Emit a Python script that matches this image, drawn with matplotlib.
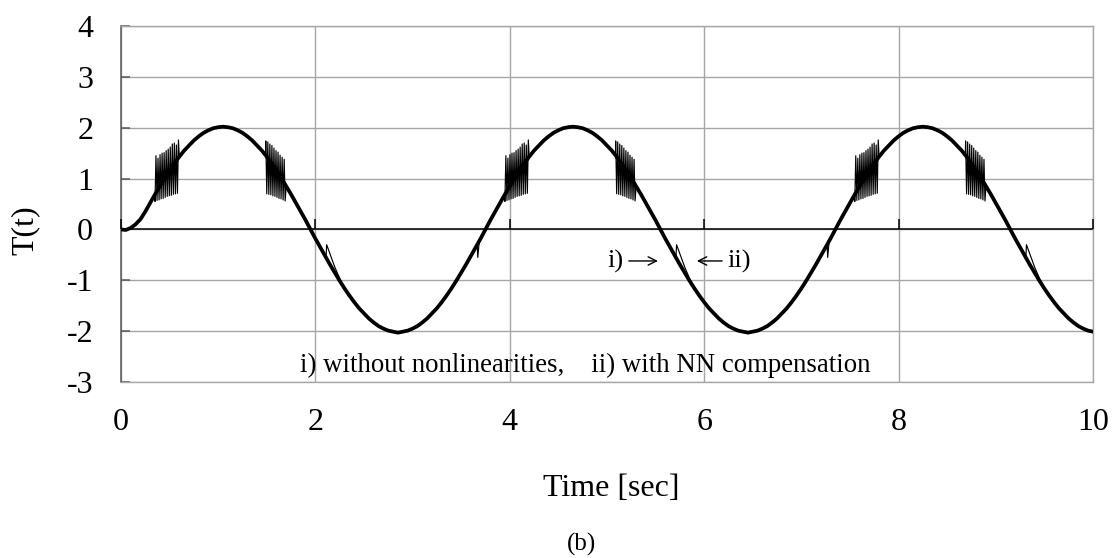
import numpy as np
import matplotlib
matplotlib.use('Agg')
import matplotlib.pyplot as plt

plt.rcParams['font.family'] = ['Liberation Serif', 'DejaVu Serif']
plt.rcParams['axes.unicode_minus'] = False

# ---------------- data ----------------
time_s = np.round(np.arange(0, 10.0001, 0.05), 2)

# ii) with NN compensation (thick curve), sampled every 0.05 s
T_nn = [0.00, -0.01, 0.03, 0.10, 0.20, 0.35, 0.52, 0.69,
        # 0.40 .. 3.95
        0.85, 1.01, 1.16, 1.30, 1.43, 1.55, 1.65, 1.75, 1.83, 1.90, 1.95, 1.99,
        2.01, 2.02, 2.01, 1.99, 1.95, 1.90, 1.83, 1.75, 1.65, 1.55, 1.43, 1.30,
        1.16, 1.01, 0.85, 0.69, 0.52, 0.35, 0.18, 0.00, -0.18, -0.35, -0.52, -0.69,
        -0.85, -1.01, -1.16, -1.30, -1.43, -1.55, -1.65, -1.75, -1.83, -1.90, -1.95, -1.99,
        -2.01, -2.03, -2.01, -1.99, -1.95, -1.90, -1.83, -1.75, -1.65, -1.55, -1.43, -1.30,
        -1.16, -1.01, -0.85, -0.69, -0.52, -0.35, -0.18, 0.00, 0.18, 0.35, 0.52, 0.69,
        # 4.00 .. 7.55
        0.85, 1.01, 1.16, 1.30, 1.43, 1.55, 1.65, 1.75, 1.83, 1.90, 1.95, 1.99,
        2.01, 2.02, 2.01, 1.99, 1.95, 1.90, 1.83, 1.75, 1.65, 1.55, 1.43, 1.30,
        1.16, 1.01, 0.85, 0.69, 0.52, 0.35, 0.18, 0.00, -0.18, -0.35, -0.52, -0.69,
        -0.85, -1.01, -1.16, -1.30, -1.43, -1.55, -1.65, -1.75, -1.83, -1.90, -1.95, -1.99,
        -2.01, -2.03, -2.01, -1.99, -1.95, -1.90, -1.83, -1.75, -1.65, -1.55, -1.43, -1.30,
        -1.16, -1.01, -0.85, -0.69, -0.52, -0.35, -0.18, 0.00, 0.18, 0.35, 0.52, 0.69,
        # 7.60 .. 10.00
        0.85, 1.01, 1.16, 1.30, 1.43, 1.55, 1.65, 1.75, 1.83, 1.90, 1.95, 1.99,
        2.01, 2.02, 2.01, 1.99, 1.95, 1.90, 1.83, 1.75, 1.65, 1.55, 1.43, 1.30,
        1.16, 1.01, 0.85, 0.69, 0.52, 0.35, 0.18, 0.00, -0.18, -0.35, -0.52, -0.69,
        -0.85, -1.01, -1.16, -1.30, -1.43, -1.55, -1.65, -1.75, -1.83, -1.90, -1.95, -1.99,
        -2.01]

# i) without nonlinearities (thin curve): oscillation bursts and spikes
spike_dt = 0.021
burstA_start = [0.35, 3.95, 7.55]
burstA_entry = 0.68
burstA_top = [1.45, 1.40, 1.47, 1.50, 1.51, 1.55, 1.58, 1.62, 1.68, 1.70, 1.66, 1.76]
burstA_bot = [0.55, 0.57, 0.58, 0.60, 0.61, 0.63, 0.65, 0.66, 0.67, 0.69, 0.70, 0.71]
burstB_start = [1.49, 5.09, 8.69]
burstB_entry = 1.45
burstB_top = [1.74, 1.72, 1.68, 1.65, 1.60, 1.55, 1.52, 1.46, 1.42, 1.38]
burstB_bot = [0.70, 0.69, 0.68, 0.66, 0.65, 0.63, 0.61, 0.60, 0.58, 0.56]
saw_start = [2.11, 5.71, 9.31]
saw_dt = [0.0, 0.006, 0.09, 0.18]
saw_val = [-0.56, -0.30, -0.74, -1.14]
dip_start = [3.665, 7.265]
dip_dt = [0.0, 0.006, 0.022]
dip_val = [-0.30, -0.55, -0.22]

x_ticks = [0, 2, 4, 6, 8, 10]
y_ticks = [-3, -2, -1, 0, 1, 2, 3, 4]

# ---------------- build thin curve ----------------
events = []
windows = []
for s in burstA_start:
    events.append((s - 0.003, burstA_entry))
    for k, (top, bot) in enumerate(zip(burstA_top, burstA_bot)):
        tk = s + k * spike_dt
        events += [(tk, bot), (tk + 0.01, top)]
    windows.append((s - 0.004, s + (len(burstA_top) - 1) * spike_dt + 0.011))
for s in burstB_start:
    events.append((s - 0.003, burstB_entry))
    for k, (top, bot) in enumerate(zip(burstB_top, burstB_bot)):
        tk = s + k * spike_dt
        events += [(tk, top), (tk + 0.01, bot)]
    windows.append((s - 0.004, s + (len(burstB_top) - 1) * spike_dt + 0.011))
for s in saw_start:
    events += [(s + d, v) for d, v in zip(saw_dt, saw_val)]
    windows.append((s - 0.001, s + saw_dt[-1] + 0.001))
for s in dip_start:
    events += [(s + d, v) for d, v in zip(dip_dt, dip_val)]
    windows.append((s - 0.001, s + dip_dt[-1] + 0.001))

pts = [(t, v) for t, v in zip(time_s, T_nn)
       if not any(a <= t <= b for a, b in windows)]
pts += events
pts.sort(key=lambda p: p[0])
t_thin = [p[0] for p in pts]
v_thin = [p[1] for p in pts]

# ---------------- figure ----------------
fig = plt.figure(figsize=(11.15, 5.58), dpi=100)
ax = fig.add_axes([0.1085, 0.3154, 0.8717, 0.638])

grid_c = '#a6a6a6'
ax.set_xlim(0, 10)
ax.set_ylim(-3, 4)
ax.set_xticks(x_ticks)
ax.set_yticks(y_ticks)
ax.grid(True, color=grid_c, lw=1.0)
ax.set_axisbelow(True)

ax.tick_params(axis='x', length=0, pad=19, labelsize=23)
ax.tick_params(axis='y', direction='in', length=6.5, width=1.1,
               color='#595959', pad=20, labelsize=23)
for side in ['top', 'right', 'bottom']:
    ax.spines[side].set_color(grid_c)
    ax.spines[side].set_linewidth(1.0)
ax.spines['left'].set_color('#595959')
ax.spines['left'].set_linewidth(1.1)

# x axis line through zero with upward ticks
ax.axhline(0, color='black', lw=1.1, zorder=2.5)
ax.plot(x_ticks, [0] * len(x_ticks), ls='none', marker=2, ms=7, mew=1.1,
        color='black', clip_on=False, zorder=2.6)

ax.plot(t_thin, v_thin, color='black', lw=0.85, zorder=3)
ax.plot(time_s, T_nn, color='black', lw=2.7, zorder=4,
        solid_joinstyle='round', solid_capstyle='round')

ax.set_xlabel('Time [sec]', fontsize=23, va='center')
ax.xaxis.set_label_coords(0.504, -0.298)
ax.set_ylabel('T(t)', fontsize=23, va='center', ha='center')
ax.yaxis.set_label_coords(-0.0988, 0.427)

ax.text(1.84, -2.80, 'i) without nonlinearities,    ii) with NN compensation',
        fontsize=19.3, ha='left', va='baseline')

# "i) ->"  and  "<- ii)" labels
arrow_kw = dict(arrowstyle='->,head_length=0.6,head_width=0.3', lw=1.0,
                color='black', shrinkA=0, shrinkB=0)
ax.text(5.0, -0.62, 'i)', fontsize=19, ha='left', va='center')
ax.annotate('', xy=(5.525, -0.62), xytext=(5.225, -0.62), arrowprops=arrow_kw)
ax.annotate('', xy=(5.925, -0.62), xytext=(6.185, -0.62), arrowprops=arrow_kw)
ax.text(6.235, -0.62, 'ii)', fontsize=19, ha='left', va='center')

fig.text(582 / 1115, 1 - 544 / 558, '(b)', fontsize=18, ha='center', va='center')

fig.savefig('out.png', dpi=100)
